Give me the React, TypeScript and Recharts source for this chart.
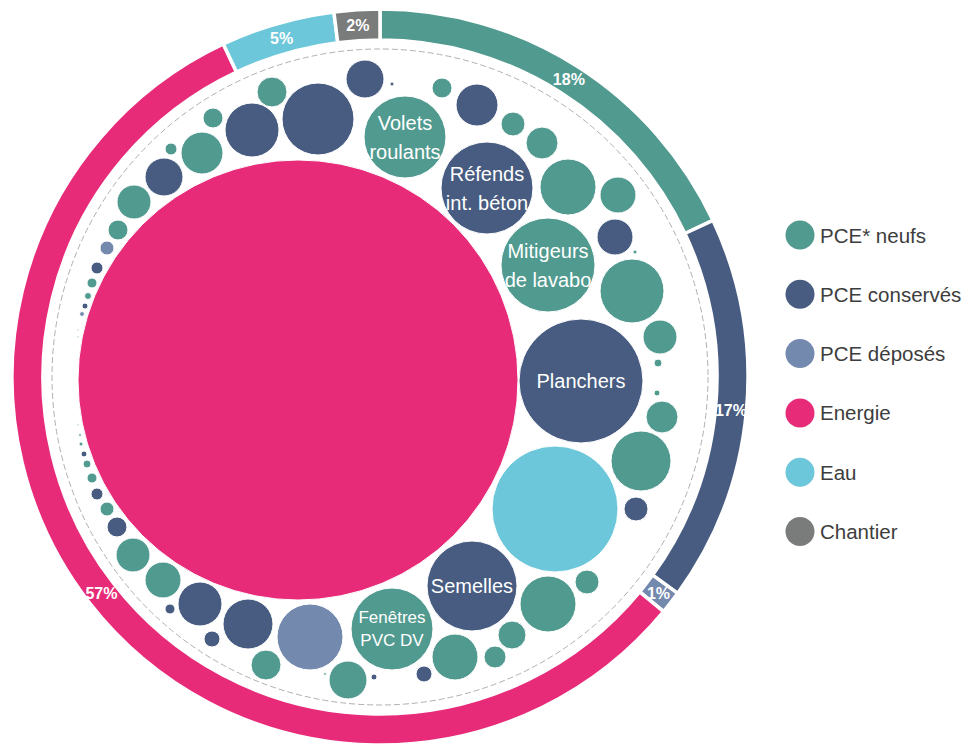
import React from 'react';
import { PieChart, Pie, Cell, PolarGrid, ScatterChart, Scatter, XAxis, YAxis, ZAxis } from 'recharts';

// ---- Ring (share of total impact, %) ----
const ringCategories = ['PCE* neufs', 'PCE conservés', 'PCE déposés', 'Energie', 'Eau', 'Chantier'];
const ringShares = [18, 17, 1, 57, 5, 2];

// ---- Bubbles: x / y in chart units (centre = 0,0), v = bubble size (area units) ----
const pceNeufs = [
  { x: 25, y: 240, v: 1681, label: 'Volets\nroulants' },
  { x: 62, y: 289, v: 100 },
  { x: 133, y: 253, v: 144 },
  { x: 162, y: 234, v: 256 },
  { x: 188, y: 190, v: 784 },
  { x: 238, y: 182, v: 324 },
  { x: 168, y: 112, v: 2209, label: 'Mitigeurs\nde lavabo' },
  { x: 252, y: 86, v: 1024 },
  { x: 280, y: 40, v: 289 },
  { x: 278, y: 14, v: 16 },
  { x: 277, y: -16, v: 9 },
  { x: 282, y: -40, v: 256 },
  { x: 261, y: -84, v: 900 },
  { x: 207, y: -205, v: 144 },
  { x: 168, y: -227, v: 784 },
  { x: 132, y: -258, v: 196 },
  { x: 115, y: -280, v: 121 },
  { x: 75, y: -280, v: 529 },
  { x: 12, y: -252, v: 1681, label: 'Fenêtres\nPVC DV' },
  { x: -32, y: -303, v: 361 },
  { x: -114, y: -288, v: 225 },
  { x: -217, y: -203, v: 324 },
  { x: -247, y: -178, v: 289 },
  { x: -273, y: -132, v: 49 },
  { x: -288, y: -101, v: 25 },
  { x: -293, y: -87, v: 16 },
  { x: -299, y: -67, v: 4 },
  { x: -300, y: -58, v: 2 },
  { x: -302, y: -48, v: 1 },
  { x: -108, y: 285, v: 225 },
  { x: -167, y: 259, v: 100 },
  { x: -178, y: 224, v: 441 },
  { x: -209, y: 228, v: 36 },
  { x: -246, y: 175, v: 289 },
  { x: -262, y: 147, v: 100 },
  { x: -288, y: 94, v: 25 },
  { x: -292, y: 81, v: 12 },
  { x: -302, y: 47, v: 1 },
  { x: -302, y: 40, v: 1 },
  { x: 255, y: 125, v: 4 },
  { x: -55, y: -297, v: 2 },
];

const pceConserves = [
  { x: -62, y: 258, v: 1296 },
  { x: -15, y: 298, v: 361 },
  { x: 97, y: 272, v: 441 },
  { x: 107, y: 189, v: 2116, label: 'Réfends\nint. béton' },
  { x: -128, y: 247, v: 729 },
  { x: -216, y: 200, v: 361 },
  { x: 235, y: 140, v: 324 },
  { x: 201, y: -4, v: 3844, label: 'Planchers' },
  { x: 256, y: -132, v: 144 },
  { x: 92, y: -209, v: 2025, label: 'Semelles' },
  { x: -283, y: 109, v: 36 },
  { x: -295, y: 71, v: 9 },
  { x: -296, y: -77, v: 9 },
  { x: -283, y: -117, v: 36 },
  { x: -263, y: -150, v: 100 },
  { x: -210, y: -232, v: 25 },
  { x: -180, y: -227, v: 484 },
  { x: -168, y: -262, v: 64 },
  { x: -132, y: -247, v: 625 },
  { x: -6, y: -300, v: 9 },
  { x: 44, y: -297, v: 64 },
  { x: 12, y: 293, v: 4 },
];

const pceDeposes = [
  { x: -273, y: 129, v: 49 },
  { x: -70, y: -260, v: 1089 },
  { x: -298, y: 63, v: 6 },
];

const energie = [{ x: -82, y: -3, v: 48400 }];
const eau = [{ x: 175, y: -132, v: 3969 }];

const COLORS = ['#519a8f', '#475c80', '#7389ad', '#e72b79', '#6dc7da', '#7a7c7c'];
const FONT = '"Liberation Sans", Arial, sans-serif';
const MAX_V = 48400;

const ringData = ringCategories.map((name, i) => ({ name, value: ringShares[i] }));

const RADIAN = Math.PI / 180;
const renderRingLabel = (props: any) => {
  const { cx, cy, midAngle, innerRadius, outerRadius, value } = props;
  const r = (innerRadius + outerRadius) / 2;
  const x = cx + r * Math.cos(-midAngle * RADIAN);
  const y = cy + r * Math.sin(-midAngle * RADIAN);
  return (
    <text x={x} y={y} fill="#fff" fontFamily={FONT} fontSize={16} fontWeight="bold"
      textAnchor="middle" dominantBaseline="central">{`${value}%`}</text>
  );
};

const renderBubble = (props: any) => {
  const { cx, cy, payload, fill } = props;
  const r = typeof props.width === 'number' && props.width > 0 ? props.width / 2 : Math.sqrt((props.size || 0) / Math.PI);
  const label: string | undefined = payload && payload.label;
  const lines = label ? label.split('\n') : [];
  const small = label && label.startsWith('Fen');
  const fs = small ? 17 : 20;
  const lh = small ? 23 : 29;
  return (
    <g>
      <circle cx={cx} cy={cy} r={r} fill={fill} stroke="#fff" strokeWidth={1} />
      {lines.map((t, i) => (
        <text key={i} x={cx} y={cy + (i - (lines.length - 1) / 2) * lh} fill="#fff"
          fontFamily={FONT} fontSize={fs} textAnchor="middle" dominantBaseline="central">{t}</text>
      ))}
    </g>
  );
};

const bubbleSeries = [
  { name: ringCategories[3], data: energie, color: COLORS[3] },
  { name: ringCategories[0], data: pceNeufs, color: COLORS[0] },
  { name: ringCategories[1], data: pceConserves, color: COLORS[1] },
  { name: ringCategories[2], data: pceDeposes, color: COLORS[2] },
  { name: ringCategories[4], data: eau, color: COLORS[4] },
];

export default function App() {
  return (
    <div style={{ position: 'absolute', left: 0, top: 0, width: 964, height: 744, overflow: 'hidden', background: '#fff' }}>
      <div style={{ position: 'absolute', left: 10, top: 7 }}>
        <PieChart width={740} height={740} margin={{ top: 0, right: 0, bottom: 0, left: 0 }}>
          <PolarGrid gridType="circle" radialLines={false} polarRadius={[328]} polarAngles={[]}
            stroke="#b0b0b0" strokeDasharray="6 3" strokeWidth={1} />
          <Pie data={ringData} dataKey="value" nameKey="name" startAngle={90} endAngle={-270}
            innerRadius={337} outerRadius={368} stroke="#fff" strokeWidth={3.5}
            isAnimationActive={false} label={renderRingLabel} labelLine={false}>
            {ringData.map((d, i) => <Cell key={d.name} fill={COLORS[i]} />)}
          </Pie>
        </PieChart>
      </div>
      <div style={{ position: 'absolute', left: 10, top: 7 }}>
        <ScatterChart width={740} height={740} margin={{ top: 0, right: 0, bottom: 0, left: 0 }}>
          <XAxis type="number" dataKey="x" domain={[-370, 370]} hide />
          <YAxis type="number" dataKey="y" domain={[-370, 370]} hide />
          <ZAxis type="number" dataKey="v" domain={[0, MAX_V]} range={[0, Math.PI * MAX_V]} />
          {bubbleSeries.map((s) => (
            <Scatter key={s.name} name={s.name} data={s.data} fill={s.color}
              shape={renderBubble} isAnimationActive={false} />
          ))}
        </ScatterChart>
      </div>
      <svg style={{ position: 'absolute', left: 770, top: 200 }} width={194} height={360}>
        {ringCategories.map((name, i) => (
          <g key={name}>
            <circle cx={30} cy={35 + i * 59.3} r={14.5} fill={COLORS[i]} />
            <text x={50} y={35 + i * 59.3} fill="#3d3d3d" fontFamily={FONT} fontSize={20.5}
              dominantBaseline="central">{name}</text>
          </g>
        ))}
      </svg>
    </div>
  );
}
